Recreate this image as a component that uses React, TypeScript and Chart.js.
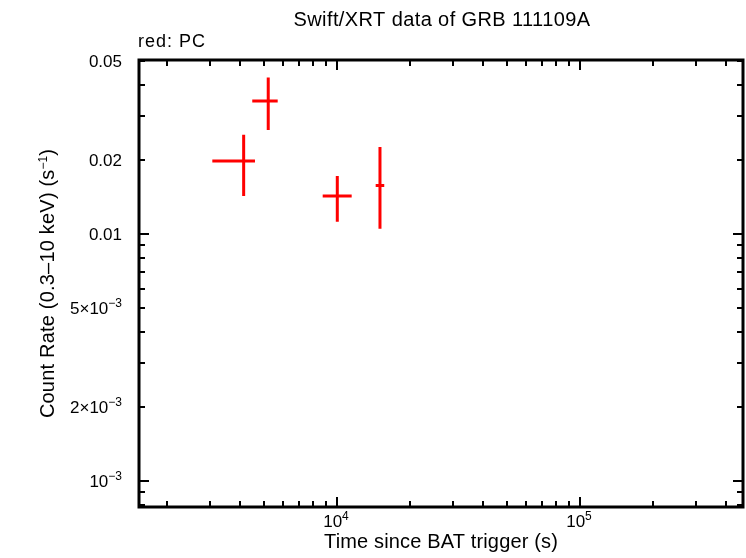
import { useEffect, useRef } from "react";
import { Chart, registerables } from "chart.js";

Chart.register(...registerables);

// PC mode data (time since BAT trigger in s, count rate in counts/s)
const times = [4130, 5213, 10030, 15030];
const timeLow = [3069, 4481, 8734, 14430];
const timeHigh = [4598, 5702, 11494, 15650];
const rates = [0.01975, 0.03455, 0.01425, 0.01573];
const rateLow = [0.01425, 0.02636, 0.01121, 0.01051];
const rateHigh = [0.0252, 0.043, 0.01717, 0.02249];

const xMin = 1532;
const xMax = 468700;
const yMin = 7.847e-4;
const yMax = 0.05063;

const xLabelTicks = [1e4, 1e5];
const xTickLabels = ["10^4", "10^5"];
const yLabelTicks = [0.001, 0.002, 0.005, 0.01, 0.02, 0.05];
const yTickLabels = ["10^\u22123", "2\u00d710^\u22123", "5\u00d710^\u22123", "0.01", "0.02", "0.05"];

const titleText = "Swift/XRT data of GRB 111109A";
const xTitle = "Time since BAT trigger (s)";
const yTitleMain = "Count Rate (0.3\u201310 keV) (s";
const yTitleSup = "\u22121";
const yTitleEnd = ")";
const legendText = "red: PC";

const FONT = "'Liberation Sans', Arial, Helvetica, sans-serif";

function logTicks(min: number, max: number) {
  const major: number[] = [];
  const minor: number[] = [];
  const start = Math.floor(Math.log10(min));
  const end = Math.ceil(Math.log10(max));
  for (let e = start; e <= end; e++) {
    const p = Math.pow(10, e);
    for (let m = 1; m <= 9; m++) {
      const v = m * p;
      if (v < min || v > max) continue;
      if (m === 1) major.push(v);
      else minor.push(v);
    }
  }
  return { major, minor };
}

function labelWidth(ctx: CanvasRenderingContext2D, label: string, baseSize: number, supSize: number) {
  const [base, sup] = label.split("^");
  ctx.font = `${baseSize}px ${FONT}`;
  let w = ctx.measureText(base).width;
  if (sup) {
    ctx.font = `${supSize}px ${FONT}`;
    w += ctx.measureText(sup).width;
  }
  return w;
}

function drawLabel(ctx: CanvasRenderingContext2D, label: string, x: number, y: number, baseSize: number, supSize: number) {
  const [base, sup] = label.split("^");
  ctx.textAlign = "left";
  ctx.textBaseline = "alphabetic";
  ctx.font = `${baseSize}px ${FONT}`;
  ctx.fillText(base, x, y);
  const bw = ctx.measureText(base).width;
  if (sup) {
    ctx.font = `${supSize}px ${FONT}`;
    ctx.fillText(sup, x + bw, y - 7);
  }
}

const framePlugin = {
  id: "xrtFrame",
  beforeDraw(chart: any) {
    const ctx = chart.ctx as CanvasRenderingContext2D;
    ctx.save();
    ctx.fillStyle = "#ffffff";
    ctx.fillRect(0, 0, chart.width, chart.height);
    ctx.restore();
  },
  afterDatasetsDraw(chart: any) {
    const ctx = chart.ctx as CanvasRenderingContext2D;
    const xs = chart.scales.x;
    const ys = chart.scales.y;
    const area = chart.chartArea;
    ctx.save();
    ctx.beginPath();
    ctx.rect(area.left, area.top, area.right - area.left, area.bottom - area.top);
    ctx.clip();
    ctx.strokeStyle = "#ff0000";
    ctx.lineWidth = 3;
    ctx.lineCap = "butt";
    for (let i = 0; i < times.length; i++) {
      const cx = xs.getPixelForValue(times[i]);
      const cy = ys.getPixelForValue(rates[i]);
      ctx.beginPath();
      ctx.moveTo(xs.getPixelForValue(timeLow[i]), cy);
      ctx.lineTo(xs.getPixelForValue(timeHigh[i]), cy);
      ctx.moveTo(cx, ys.getPixelForValue(rateLow[i]));
      ctx.lineTo(cx, ys.getPixelForValue(rateHigh[i]));
      ctx.stroke();
    }
    ctx.restore();
  },
  afterDraw(chart: any) {
    const ctx = chart.ctx as CanvasRenderingContext2D;
    const xs = chart.scales.x;
    const ys = chart.scales.y;
    const { left, right, top, bottom } = chart.chartArea;
    ctx.save();
    ctx.strokeStyle = "#000000";
    ctx.fillStyle = "#000000";

    // ticks
    ctx.lineWidth = 2;
    const xt = logTicks(xMin, xMax);
    const yt = logTicks(yMin, yMax);
    const drawX = (v: number, len: number) => {
      const px = Math.round(xs.getPixelForValue(v));
      ctx.beginPath();
      ctx.moveTo(px, bottom);
      ctx.lineTo(px, bottom - len);
      ctx.moveTo(px, top);
      ctx.lineTo(px, top + len);
      ctx.stroke();
    };
    const drawY = (v: number, len: number) => {
      const py = Math.round(ys.getPixelForValue(v));
      ctx.beginPath();
      ctx.moveTo(left, py);
      ctx.lineTo(left + len, py);
      ctx.moveTo(right, py);
      ctx.lineTo(right - len, py);
      ctx.stroke();
    };
    xt.minor.forEach((v) => drawX(v, 6));
    xt.major.forEach((v) => drawX(v, 10));
    yt.minor.forEach((v) => drawY(v, 6));
    yt.major.forEach((v) => drawY(v, 10));

    // frame
    ctx.lineWidth = 3;
    ctx.strokeRect(left, top, right - left, bottom - top);

    // tick labels
    for (let i = 0; i < xLabelTicks.length; i++) {
      const px = xs.getPixelForValue(xLabelTicks[i]);
      const w = labelWidth(ctx, xTickLabels[i], 17, 12);
      drawLabel(ctx, xTickLabels[i], px - w / 2 - 1, 527, 17, 12);
    }
    for (let i = 0; i < yLabelTicks.length; i++) {
      const py = ys.getPixelForValue(yLabelTicks[i]);
      const w = labelWidth(ctx, yTickLabels[i], 17, 12);
      drawLabel(ctx, yTickLabels[i], 122 - w, py + 6, 17, 12);
    }

    // title
    ctx.textBaseline = "alphabetic";
    ctx.textAlign = "center";
    ctx.font = `20px ${FONT}`;
    (ctx as any).letterSpacing = "0.4px";
    ctx.fillText(titleText, (left + right) / 2 + 1, 26);

    // x title
    (ctx as any).letterSpacing = "0.15px";
    ctx.fillText(xTitle, (left + right) / 2, 548);

    // legend text
    ctx.textAlign = "left";
    ctx.font = `18px ${FONT}`;
    (ctx as any).letterSpacing = "1px";
    ctx.fillText(legendText, 138, 47);

    // y title (rotated)
    ctx.save();
    ctx.translate(54, (top + bottom) / 2);
    ctx.rotate(-Math.PI / 2);
    ctx.font = `20px ${FONT}`;
    (ctx as any).letterSpacing = "0.2px";
    const w1 = ctx.measureText(yTitleMain).width;
    const w3 = ctx.measureText(yTitleEnd).width;
    ctx.font = `12px ${FONT}`;
    (ctx as any).letterSpacing = "0px";
    const w2 = ctx.measureText(yTitleSup).width;
    const total = w1 + w2 + w3;
    let x0 = -total / 2;
    ctx.textAlign = "left";
    ctx.font = `20px ${FONT}`;
    (ctx as any).letterSpacing = "0.2px";
    ctx.fillText(yTitleMain, x0, 0);
    x0 += w1;
    ctx.font = `12px ${FONT}`;
    (ctx as any).letterSpacing = "0px";
    ctx.fillText(yTitleSup, x0, -7);
    x0 += w2;
    ctx.font = `20px ${FONT}`;
    ctx.fillText(yTitleEnd, x0, 0);
    ctx.restore();

    ctx.restore();
  },
};

export default function App() {
  const canvasRef = useRef<HTMLCanvasElement | null>(null);

  useEffect(() => {
    if (!canvasRef.current) return;
    const chart = new Chart(canvasRef.current, {
      type: "scatter",
      data: {
        datasets: [
          {
            label: "PC",
            data: times.map((t, i) => ({ x: t, y: rates[i] })),
            pointRadius: 0,
            showLine: false,
            borderColor: "#ff0000",
            backgroundColor: "#ff0000",
          },
        ],
      },
      options: {
        responsive: false,
        animation: false,
        events: [],
        layout: { padding: { left: 139, right: 3, top: 60, bottom: 51 } },
        plugins: {
          legend: { display: false },
          tooltip: { enabled: false },
          title: { display: false },
        },
        scales: {
          x: { type: "logarithmic", min: xMin, max: xMax, display: false },
          y: { type: "logarithmic", min: yMin, max: yMax, display: false },
        },
      },
      plugins: [framePlugin],
    });
    return () => chart.destroy();
  }, []);

  return (
    <div style={{ position: "absolute", left: 0, top: 0, width: 746, height: 558, background: "#fff" }}>
      <canvas ref={canvasRef} width={746} height={558} style={{ display: "block" }} />
    </div>
  );
}
